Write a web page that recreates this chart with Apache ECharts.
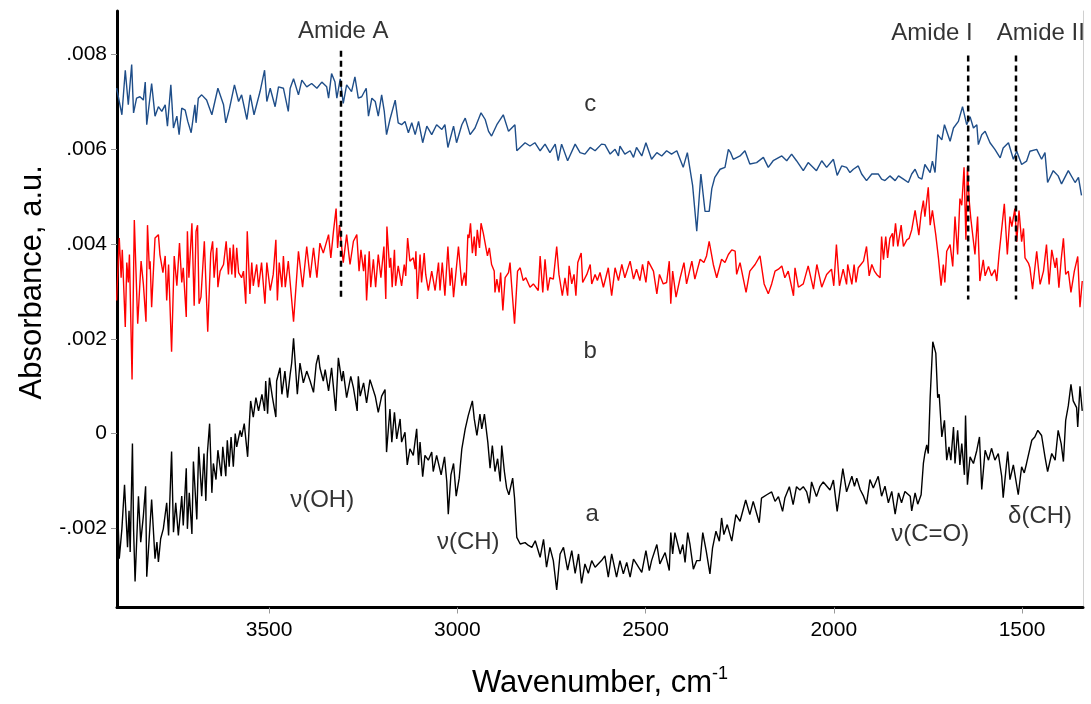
<!DOCTYPE html>
<html><head><meta charset="utf-8">
<script src="https://cdn.jsdelivr.net/npm/echarts@6/dist/echarts.min.js"></script>
<style>html,body{margin:0;padding:0;background:#fff}#c{width:1091px;height:704px}</style>
</head><body><div id="c"></div>
<script>
// Absorbance values are given in units of 1e-4 (a.u.); wavenumber in cm-1
const spectrumC = [[3905,72.9],[3891,67.3],[3882,76.7],[3874,69.4],[3865,77.9],[3860,67.7],[3852,70.8],[3843,71.1],[3834,70.4],[3829,74.2],[3825,65.2],[3812,73.9],[3803,67.0],[3794,69.0],[3785,68.0],[3776,69.4],[3770,64.9],[3761,73.6],[3754,64.5],[3745,67.0],[3739,63.1],[3732,68.7],[3723,68.3],[3716,65.9],[3707,63.5],[3697,69.4],[3694,65.6],[3688,70.8],[3679,71.5],[3666,70.4],[3652,67.3],[3636,72.9],[3621,69.4],[3615,65.6],[3605,68.7],[3592,73.6],[3581,70.1],[3573,71.5],[3559,66.3],[3550,71.5],[3540,67.3],[3524,72.2],[3512,76.7],[3506,70.1],[3497,72.9],[3484,69.0],[3475,73.2],[3462,72.9],[3449,68.0],[3444,72.9],[3435,74.9],[3422,71.5],[3413,74.6],[3400,73.2],[3387,73.9],[3373,72.9],[3360,74.2],[3347,73.2],[3342,70.8],[3334,76.0],[3325,74.2],[3320,70.8],[3311,74.9],[3303,69.7],[3294,73.6],[3281,72.2],
[3272,75.3],[3263,70.8],[3254,71.1],[3242,72.9],[3236,67.0],[3227,70.8],[3218,70.1],[3210,67.0],[3201,71.5],[3194,68.0],[3188,63.1],[3179,66.3],[3165,70.4],[3157,65.6],[3148,65.2],[3139,65.9],[3130,63.5],[3121,65.6],[3112,63.1],[3103,65.9],[3092,61.4],[3081,64.9],[3068,63.1],[3055,65.2],[3041,64.2],[3033,65.2],[3025,60.4],[3010,64.9],[3002,61.4],[2988,65.2],[2979,66.6],[2966,63.1],[2953,64.5],[2937,67.7],[2926,66.3],[2917,63.8],[2909,62.8],[2895,65.2],[2878,67.3],[2864,63.8],[2847,65.2],[2842,59.7],[2833,60.4],[2820,61.4],[2807,60.7],[2794,61.4],[2780,59.7],[2767,61.1],[2754,59.3],[2740,61.1],[2732,57.6],[2723,61.1],[2707,57.6],[2687,61.1],[2674,59.3],[2661,59.0],[2647,60.4],[2634,59.7],[2617,61.1],
[2608,61.0],[2594,59.0],[2581,60.0],[2572,58.6],[2568,60.7],[2555,59.0],[2541,59.7],[2532,58.3],[2524,60.4],[2510,58.6],[2499,61.4],[2484,57.9],[2470,59.3],[2457,58.6],[2444,59.7],[2431,59.0],[2417,59.7],[2400,56.2],[2389,59.3],[2375,52.4],[2364,42.7],[2353,54.8],[2342,46.9],[2331,46.9],[2324,51.7],[2316,54.1],[2302,55.8],[2289,56.2],[2280,60.0],[2274,59.3],[2267,57.9],[2249,58.6],[2236,59.7],[2223,56.9],[2205,57.2],[2187,58.3],[2174,56.2],[2161,57.6],[2138,58.6],[2125,57.6],[2112,59.0],[2099,57.6],[2081,55.5],[2068,57.2],[2046,55.5],[2032,57.6],[2019,56.2],[2001,57.9],[1991,54.5],[1979,56.5],
[1966,56.2],[1957,55.1],[1948,55.8],[1935,56.5],[1926,54.8],[1913,53.4],[1899,54.8],[1882,54.8],[1873,53.7],[1864,53.4],[1851,54.4],[1837,53.4],[1828,54.4],[1815,53.7],[1802,53.0],[1793,54.8],[1784,55.8],[1775,54.1],[1766,53.7],[1758,56.8],[1744,55.1],[1738,57.5],[1731,55.1],[1724,63.1],[1713,62.0],[1706,65.2],[1691,61.7],[1682,64.5],[1669,65.9],[1658,69.0],[1647,65.2],[1638,66.9],[1629,64.5],[1620,65.2],[1616,61.0],[1607,63.1],[1598,63.8],[1585,61.4],[1572,60.0],[1558,58.2],[1550,60.3],[1536,61.4],[1523,57.9],[1514,59.6],[1501,56.8],[1488,57.5],[1479,59.6],[1461,60.0],[1448,57.9],[1439,59.3],[1432,53.0],[1417,55.5],[1404,54.4],[1395,52.7],[1377,55.5],[1359,53.0],[1350,54.1],[1342,50.3]];

const spectrumB = [[3905,28.1],[3898,41.3],[3893,32.9],[3890,38.8],[3882,22.5],[3878,36.1],[3874,31.9],[3871,37.8],[3864,11.4],[3858,45.1],[3849,23.2],[3840,36.4],[3834,31.6],[3827,23.6],[3823,44.0],[3818,34.7],[3816,36.4],[3812,26.7],[3803,41.3],[3794,42.0],[3790,37.8],[3782,34.0],[3776,37.5],[3772,28.1],[3767,35.7],[3759,17.3],[3752,37.5],[3745,31.2],[3738,40.2],[3732,31.9],[3728,35.0],[3720,24.6],[3717,42.7],[3713,32.9],[3705,44.4],[3699,27.0],[3694,42.7],[3690,44.0],[3686,27.4],[3681,28.8],[3672,40.6],[3663,21.5],[3655,38.1],[3650,40.6],[3646,32.9],[3639,39.2],[3636,30.9],[3630,34.3],[3621,35.7],[3614,40.6],[3608,33.6],[3604,39.2],[3599,33.6],[3595,39.9],[3590,32.9],[3586,39.2],[3581,34.0],[3573,32.9],[3568,34.3],[3562,27.4],[3558,42.7],[3551,29.5],[3546,36.1],[3542,31.2],[3533,35.7],[3528,30.9],[3520,36.1],[3511,27.4],[3506,36.1],[3497,30.2],[3489,33.6],[3482,40.9],[3478,28.1],[3473,36.1],[3466,30.9],[3462,37.5],[3457,30.9],[3449,36.4],[3444,31.9],[3435,23.6],[3422,38.5],[3411,30.9],[3400,39.5],[3391,32.9],[3382,39.2],[3373,32.9],[3365,40.2],[3356,38.1],[3342,42.0],[3336,37.1],[3329,42.7],[3322,47.5],[3318,39.2],[3313,44.0],[3303,36.1],[3294,42.0],[3285,35.7],[3276,40.6],
[3267,42.0],[3261,34.3],[3256,38.8],[3249,34.3],[3245,37.8],[3241,28.1],[3234,38.5],[3230,30.9],[3223,36.8],[3217,30.9],[3210,37.8],[3203,32.9],[3195,39.5],[3190,28.4],[3187,43.7],[3180,35.0],[3177,37.1],[3173,30.9],[3167,38.8],[3164,31.2],[3157,35.4],[3148,31.2],[3141,35.7],[3137,33.3],[3132,41.3],[3126,36.4],[3117,37.1],[3112,34.7],[3110,38.5],[3106,28.4],[3099,37.8],[3095,31.9],[3088,38.1],[3084,33.6],[3077,30.2],[3068,34.3],[3059,30.2],[3050,36.1],[3046,30.2],[3040,36.1],[3033,29.1],[3025,39.5],[3019,31.2],[3015,35.0],[3010,28.8],[2997,39.5],[2988,31.2],[2981,34.0],[2977,31.2],[2972,42.0],[2969,41.3],[2965,44.4],[2960,38.1],[2955,41.6],[2951,37.5],[2947,43.0],[2941,39.2],[2937,44.4],[2931,42.3],[2920,37.5],[2915,39.2],[2909,35.7],[2902,34.3],[2900,29.8],[2895,32.6],[2889,29.8],[2885,34.0],[2879,26.0],[2873,32.9],[2864,34.0],[2860,36.1],[2856,31.6],[2848,23.2],[2840,34.3],[2833,35.0],[2825,32.3],[2818,32.9],[2807,30.9],[2798,31.6],[2785,30.2],[2780,37.5],[2773,29.8],[2767,36.8],[2760,30.2],[2754,32.9],[2745,32.6],[2736,39.5],[2730,33.6],[2721,29.1],[2714,32.9],[2707,29.1],[2703,35.4],[2696,31.6],[2690,33.6],[2685,29.1],[2680,36.1],[2671,38.1],[2667,31.9],[2656,33.6],[2647,35.7],[2643,31.6],[2634,33.6],[2628,32.3],[2621,34.0],
[2612,30.9],[2599,35.0],[2590,29.1],[2581,35.0],[2572,32.3],[2563,35.7],[2555,32.9],[2541,36.4],[2532,32.6],[2524,34.7],[2515,32.3],[2508,35.7],[2499,31.9],[2493,36.4],[2479,34.3],[2470,29.5],[2463,33.6],[2453,31.6],[2444,31.9],[2437,36.4],[2433,27.4],[2428,34.3],[2419,28.8],[2408,32.9],[2398,36.1],[2391,31.6],[2377,36.4],[2369,32.6],[2355,36.8],[2345,36.1],[2338,37.5],[2331,40.6],[2320,35.7],[2311,32.9],[2298,36.8],[2289,36.1],[2280,37.8],[2271,38.8],[2262,38.5],[2258,33.6],[2249,36.1],[2233,29.8],[2223,34.3],[2209,35.7],[2196,37.5],[2185,31.6],[2174,29.5],[2165,31.6],[2156,34.3],[2147,34.7],[2138,35.4],[2130,32.9],[2121,34.3],[2107,29.1],[2103,35.0],[2094,30.9],[2081,31.6],[2068,35.4],[2054,30.5],[2045,35.7],[2032,30.9],[2019,33.6],[2006,34.7],[2000,31.2],[1993,39.9],[1985,31.2],[1975,34.7],
[1966,31.5],[1963,35.7],[1952,31.5],[1946,35.7],[1941,31.9],[1935,35.0],[1928,35.7],[1921,36.4],[1913,39.5],[1906,33.3],[1899,35.7],[1892,34.3],[1886,33.6],[1877,32.9],[1873,41.6],[1868,36.7],[1862,41.6],[1857,37.1],[1851,41.2],[1844,42.3],[1842,39.5],[1836,44.4],[1830,39.5],[1821,44.0],[1815,39.5],[1806,40.9],[1800,41.2],[1793,43.0],[1784,47.1],[1774,41.9],[1768,46.4],[1762,49.2],[1758,45.8],[1749,52.0],[1744,44.0],[1738,47.1],[1729,41.9],[1722,37.1],[1715,31.2],[1709,35.7],[1705,31.9],[1700,38.5],[1691,39.9],[1684,35.3],[1678,45.8],[1671,37.8],[1665,49.6],[1660,48.2],[1654,56.2],[1649,40.9],[1645,56.2],[1640,48.9],[1636,45.4],[1625,37.8],[1618,45.8],[1612,32.2],[1603,36.7],[1598,33.3],[1589,35.3],[1581,33.3],[1572,34.6],[1567,32.2],[1561,37.8],[1547,48.5],[1539,37.8],[1532,45.8],[1527,43.7],[1519,47.5],[1514,40.5],[1508,47.1],[1501,40.5],[1496,43.3],[1492,37.1],[1483,36.0],[1479,35.0],[1472,30.5],[1461,38.5],[1452,31.5],[1443,34.3],[1435,39.9],[1428,31.5],[1421,38.8],[1412,35.0],[1408,37.1],[1402,30.8],[1396,36.7],[1390,41.2],[1384,33.6],[1377,34.3],[1370,29.8],[1361,34.3],[1352,37.4],[1346,26.7],[1340,32.2]];

const spectrumA = [[3906,-20.1],[3903,-13.5],[3898,-26.4],[3891,-20.1],[3884,-10.8],[3876,-24.0],[3872,-16.3],[3869,-25.0],[3863,-2.1],[3860,-20.1],[3856,-31.2],[3847,-13.2],[3841,-22.9],[3834,-17.4],[3828,-11.1],[3825,-30.2],[3818,-21.5],[3812,-13.9],[3803,-26.4],[3798,-22.9],[3794,-27.1],[3788,-22.2],[3781,-20.1],[3772,-14.6],[3767,-21.5],[3759,-3.8],[3754,-20.8],[3748,-14.6],[3741,-21.5],[3732,-13.2],[3728,-19.4],[3720,-7.3],[3717,-20.1],[3712,-12.5],[3705,-21.2],[3701,-5.9],[3692,-18.1],[3687,-2.8],[3679,-13.2],[3673,-4.2],[3668,-14.2],[3664,-4.2],[3658,2.1],[3652,-12.5],[3648,-6.3],[3641,-9.7],[3636,-3.5],[3627,-9.0],[3623,-2.8],[3615,-9.0],[3611,-1.4],[3606,-7.0],[3601,-0.7],[3595,-7.0],[3590,0.0],[3586,-2.8],[3577,0.7],[3573,-0.7],[3566,2.1],[3557,-4.9],[3552,2.8],[3549,6.9],[3542,3.5],[3535,7.6],[3528,4.8],[3519,8.3],[3512,4.8],[3509,11.1],[3504,4.2],[3499,11.8],[3491,7.6],[3482,3.5],[3480,11.1],[3471,13.9],[3466,8.3],[3458,13.2],[3451,7.6],[3444,12.5],[3440,14.9],[3435,20.1],[3425,8.3],[3418,14.9],[3409,10.7],[3400,13.2],[3391,11.1],[3382,8.7],[3375,14.6],[3369,16.6],[3365,13.9],[3356,11.1],[3351,13.5],[3342,9.0],[3334,13.9],[3323,4.8],[3316,16.0],[3307,11.1],[3303,13.2],[3294,7.6],[3283,12.1],[3276,9.7],[3266,4.8],
[3263,12.1],[3258,7.9],[3249,10.7],[3241,6.5],[3232,11.4],[3218,7.9],[3210,4.5],[3201,7.9],[3192,9.3],[3188,-3.9],[3179,5.2],[3174,-1.8],[3167,4.5],[3161,-1.1],[3152,3.1],[3148,-1.8],[3139,0.3],[3133,-6.6],[3126,-3.2],[3117,-4.6],[3108,1.0],[3103,-6.6],[3099,-1.8],[3092,-9.1],[3086,-4.6],[3077,-5.6],[3068,-3.9],[3064,-8.0],[3055,-4.6],[3043,-8.7],[3034,-4.9],[3028,-10.1],[3024,-17.0],[3017,-8.7],[3010,-6.3],[3003,-13.2],[2995,-9.4],[2988,-3.2],[2979,1.0],[2971,3.8],[2960,6.9],[2955,3.1],[2948,-0.4],[2940,4.1],[2935,1.0],[2928,4.1],[2919,-1.8],[2913,-7.3],[2907,-2.5],[2900,-8.0],[2893,-5.3],[2886,-10.1],[2882,-2.5],[2875,-8.0],[2869,-11.5],[2863,-12.9],[2853,-9.4],[2848,-13.6],[2842,-21.9],[2833,-23.3],[2820,-23.0],[2811,-23.6],[2802,-24.0],[2793,-22.6],[2780,-26.1],[2771,-22.3],[2763,-28.2],[2754,-24.0],[2745,-26.8],[2736,-33.0],[2727,-25.4],[2718,-24.0],[2707,-28.8],[2696,-24.7],[2687,-29.5],[2678,-25.4],[2670,-31.6],[2661,-27.5],[2652,-29.5],[2643,-26.8],[2634,-28.2],[2617,-26.8],
[2608,-25.8],[2599,-30.3],[2590,-25.4],[2577,-30.3],[2568,-26.8],[2559,-29.6],[2550,-27.2],[2541,-30.3],[2532,-26.5],[2524,-27.5],[2510,-29.3],[2499,-24.7],[2490,-28.9],[2484,-26.8],[2470,-23.4],[2462,-27.5],[2448,-25.1],[2437,-28.9],[2433,-20.9],[2428,-25.4],[2422,-20.9],[2408,-25.4],[2401,-23.4],[2395,-27.2],[2388,-20.9],[2382,-23.4],[2373,-28.6],[2364,-26.8],[2355,-26.8],[2348,-20.9],[2339,-24.7],[2329,-29.6],[2322,-24.1],[2313,-20.6],[2304,-22.7],[2298,-17.8],[2292,-21.3],[2283,-19.2],[2271,-22.7],[2260,-17.1],[2249,-18.5],[2234,-14.0],[2223,-17.1],[2214,-14.3],[2198,-18.8],[2192,-13.6],[2178,-12.9],[2165,-12.3],[2156,-14.3],[2147,-13.3],[2136,-16.4],[2130,-13.6],[2118,-11.2],[2108,-15.0],[2099,-11.2],[2090,-11.9],[2081,-11.2],[2072,-12.3],[2065,-14.7],[2059,-10.2],[2046,-13.3],[2037,-11.2],[2028,-10.2],[2010,-11.9],[2001,-9.8],[1991,-16.4],[1976,-7.4],[1966,-12.3],
[1961,-12.5],[1952,-9.0],[1945,-11.1],[1939,-9.4],[1930,-11.8],[1921,-13.2],[1913,-14.9],[1904,-9.7],[1895,-11.5],[1882,-9.0],[1873,-13.2],[1864,-11.1],[1855,-14.6],[1846,-12.2],[1837,-17.0],[1828,-12.5],[1820,-14.6],[1811,-12.2],[1797,-13.2],[1793,-16.3],[1784,-12.5],[1777,-14.9],[1768,-12.9],[1762,-6.3],[1758,-4.2],[1753,-2.4],[1749,-4.2],[1744,7.6],[1737,19.4],[1729,17.0],[1724,7.6],[1720,8.3],[1713,-0.7],[1706,2.8],[1700,-5.6],[1694,-2.8],[1689,-5.6],[1682,1.4],[1678,-6.3],[1671,0.7],[1665,-6.6],[1660,-2.1],[1653,-8.7],[1650,3.8],[1645,-10.8],[1638,-4.9],[1629,-6.3],[1620,-3.5],[1613,-0.7],[1607,-11.8],[1598,-3.5],[1589,-5.6],[1581,-3.1],[1572,-5.6],[1563,-4.2],[1554,-9.0],[1550,-13.5],[1538,-3.8],[1532,-9.7],[1523,-6.6],[1510,-12.9],[1501,-7.0],[1494,-8.3],[1488,-6.3],[1474,-1.4],[1466,-0.7],[1458,0.7],[1448,-0.4],[1439,-4.9],[1432,-8.0],[1421,-4.2],[1412,-5.6],[1404,0.7],[1396,-2.1],[1390,-5.9],[1384,2.8],[1377,5.9],[1370,10.4],[1364,6.9],[1355,5.5],[1352,1.4],[1346,10.0],[1340,4.8]];

const xTicks = [3500, 3000, 2500, 2000, 1500];
const yTicks = [-0.002, 0, 0.002, 0.004, 0.006, 0.008];
// vertical dashed marker lines: wavenumber, top and bottom absorbance
const markerLines = [[3309, 0.00808, 0.00283], [1643, 0.00798, 0.00283], [1516, 0.00798, 0.00283]];
// text annotations: wavenumber, absorbance, text
const annotations = [[3303, 0.0085, 'Amide A'], [1739, 0.00844, 'Amide I'], [1450, 0.00844, 'Amide II'],
  [2647, 0.00694, 'c'], [2647, 0.00173, 'b'], [2642, -0.00171, 'a'],
  [3359, -0.0014, 'ν(OH)'], [2971, -0.00229, 'ν(CH)'], [1744, -0.00213, 'ν(C=O)'], [1452, -0.00175, 'δ(CH)']];

const scale = d => d.map(p => [p[0], p[1] * 1e-4]);
const FONT = 'Liberation Sans, Arial, sans-serif';
const chart = echarts.init(document.getElementById('c'));
const series = [
  {type: 'line', data: scale(spectrumC), showSymbol: false, lineStyle: {color: '#1f4e89', width: 1.4}, itemStyle:{color:'#1f4e89'}, z: 3, animation: false},
  {type: 'line', data: scale(spectrumB), showSymbol: false, lineStyle: {color: '#ff0000', width: 1.4}, itemStyle:{color:'#ff0000'}, z: 3, animation: false},
  {type: 'line', data: scale(spectrumA), showSymbol: false, lineStyle: {color: '#000000', width: 1.4}, itemStyle:{color:'#000'}, z: 3, animation: false}
];
markerLines.forEach(m => series.push({type: 'line', data: [[m[0], m[1]], [m[0], m[2]]], showSymbol: false,
  lineStyle: {color: '#000', width: 2.5, type: [6, 4]}, z: 4, animation: false}));
series.push({type: 'scatter', data: annotations.map(a => ({value: [a[0], a[1]], name: a[2]})), symbolSize: 0,
  label: {show: true, position: 'inside', formatter: p => p.name, color: '#000', fontSize: 24, fontFamily: FONT}, z: 5, animation: false});

chart.setOption({
  backgroundColor: '#fff',
  animation: false,
  grid: {left: 117, right: 8, top: 11, bottom: 84},
  xAxis: {type: 'value', inverse: true, min: 1338, max: 3904,
    name: '{t|Wavenumber, cm}{s|-1}', nameLocation: 'middle', nameGap: 58,
    nameTextStyle: {rich: {t: {fontSize: 31, fontFamily: FONT, color: '#000'}, s: {fontSize: 18, fontFamily: FONT, color: '#000', padding: [0, 0, 18, 0]}}},
    axisLine: {onZero: false, lineStyle: {color: '#000', width: 3}},
    axisTick: {show: true, customValues: xTicks, length: 6, lineStyle: {color: '#999'}},
    axisLabel: {customValues: xTicks, fontSize: 21, fontFamily: FONT, color: '#000', margin: 12, formatter: v => String(v)},
    splitLine: {show: false}},
  yAxis: [{type: 'value', min: -0.00367, max: 0.00892,
    name: 'Absorbance, a.u.', nameLocation: 'middle', nameGap: 67,
    nameTextStyle: {fontSize: 31, fontFamily: FONT, color: '#000', padding: [0, 0, 0, 54]},
    axisLine: {show: true, onZero: false, lineStyle: {color: '#000', width: 3}},
    axisTick: {show: true, customValues: yTicks, length: 6, lineStyle: {color: '#999'}},
    axisLabel: {customValues: yTicks, fontSize: 21, fontFamily: FONT, color: '#000', margin: 10,
      formatter: v => Math.abs(v) < 1e-9 ? '0' : v.toFixed(3).replace('0.', '.')},
    splitLine: {show: false}},
    {type: 'value', position: 'right', min: -0.00367, max: 0.00892,
    axisLine: {show: true, lineStyle: {color: '#d0d0d0', width: 1}}, axisTick: {show: false}, axisLabel: {show: false}, splitLine: {show: false}}],
  series: series
});
</script></body></html>
